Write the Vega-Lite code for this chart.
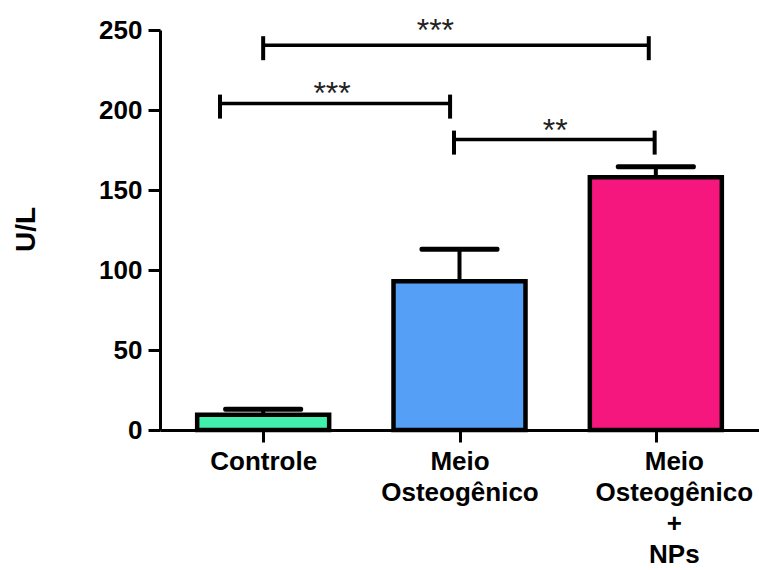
{
  "$schema": "https://vega.github.io/schema/vega-lite/v6.json",
  "width": 599,
  "height": 400,
  "autosize": {"type": "none"},
  "padding": {"left": 160, "top": 30, "right": 0, "bottom": 140},
  "background": "white",
  "config": {
    "view": {"stroke": null},
    "font": "Liberation Sans",
    "axis": {
      "domainColor": "black",
      "domainWidth": 3,
      "tickColor": "black",
      "tickWidth": 3,
      "tickSize": 12,
      "grid": false,
      "labelFont": "Liberation Sans",
      "labelFontWeight": "bold",
      "labelFontSize": 26,
      "labelColor": "black",
      "titleFont": "Liberation Sans",
      "titleColor": "black"
    }
  },
  "datasets": {
    "barras": [
      {"grupo": "Controle", "pos": 1, "media": 9.5, "sup": 13},
      {"grupo": "Meio Osteogênico", "pos": 2, "media": 93, "sup": 113},
      {"grupo": "Meio Osteogênico + NPs", "pos": 3, "media": 158, "sup": 164.5}
    ],
    "colchetes": [
      {"ini": 1.0, "fim": 2.964, "y": 240.5, "sig": "***", "lx": 1.877, "ly": 254.4},
      {"ini": 0.78, "fim": 1.952, "y": 204, "sig": "***", "lx": 1.351, "ly": 215},
      {"ini": 1.972, "fim": 2.994, "y": 181.5, "sig": "**", "lx": 2.488, "ly": 192}
    ]
  },
  "layer": [
    {
      "data": {"name": "barras"},
      "mark": {"type": "rule", "stroke": "black", "strokeWidth": 4},
      "encoding": {
        "x": {"field": "pos", "type": "quantitative"},
        "y": {"field": "media", "type": "quantitative"},
        "y2": {"field": "sup"}
      }
    },
    {
      "data": {"name": "barras"},
      "mark": {"type": "tick", "orient": "horizontal", "color": "black", "size": 80, "thickness": 5, "opacity": 1, "cornerRadius": 2},
      "encoding": {
        "x": {"field": "pos", "type": "quantitative"},
        "y": {"field": "sup", "type": "quantitative"}
      }
    },
    {
      "data": {"name": "barras"},
      "mark": {"type": "bar", "width": 132, "stroke": "black", "strokeWidth": 4.5, "opacity": 1},
      "encoding": {
        "x": {
          "field": "pos",
          "type": "quantitative",
          "scale": {"domain": [0.5, 3.5], "nice": false, "zero": false},
          "axis": {
            "title": null,
            "values": [1, 2, 3],
            "labelExpr": "datum.value == 1 ? 'Controle' : datum.value == 2 ? ['Meio', 'Osteogênico'] : ['Meio', 'Osteogênico', '+', 'NPs']",
            "labelLineHeight": 31,
            "labelPadding": 6,
            "labelBaseline": "top",
            "labelOffset": {"condition": {"test": "datum.value == 3", "value": 18}, "value": 0}
          }
        },
        "y": {
          "field": "media",
          "type": "quantitative",
          "scale": {"domain": [0, 250], "nice": false},
          "axis": {
            "values": [0, 50, 100, 150, 200, 250],
            "labelPadding": 6,
            "title": "U/L",
            "titleFontSize": 28,
            "titleFontWeight": "bold",
            "titleAngle": 270,
            "titleX": -134,
            "titleY": 199,
            "titleAlign": "center",
            "titleBaseline": "middle"
          }
        },
        "color": {
          "field": "grupo",
          "type": "nominal",
          "scale": {
            "domain": ["Controle", "Meio Osteogênico", "Meio Osteogênico + NPs"],
            "range": ["#42F0AE", "#569FF7", "#F6177E"]
          },
          "legend": null
        }
      }
    },
    {
      "data": {"name": "colchetes"},
      "mark": {"type": "rule", "stroke": "black", "strokeWidth": 3.5},
      "encoding": {
        "x": {"field": "ini", "type": "quantitative"},
        "x2": {"field": "fim"},
        "y": {"field": "y", "type": "quantitative"}
      }
    },
    {
      "data": {"name": "colchetes"},
      "mark": {"type": "tick", "orient": "vertical", "color": "black", "size": 24, "thickness": 4, "opacity": 1, "yOffset": 3},
      "encoding": {
        "x": {"field": "ini", "type": "quantitative"},
        "y": {"field": "y", "type": "quantitative"}
      }
    },
    {
      "data": {"name": "colchetes"},
      "mark": {"type": "tick", "orient": "vertical", "color": "black", "size": 24, "thickness": 4, "opacity": 1, "yOffset": 3},
      "encoding": {
        "x": {"field": "fim", "type": "quantitative"},
        "y": {"field": "y", "type": "quantitative"}
      }
    },
    {
      "data": {"name": "colchetes"},
      "mark": {"type": "text", "fontSize": 32, "color": "#222222", "baseline": "alphabetic", "align": "center", "dy": 18},
      "encoding": {
        "x": {"field": "lx", "type": "quantitative"},
        "y": {"field": "ly", "type": "quantitative"},
        "text": {"field": "sig"}
      }
    }
  ]
}
